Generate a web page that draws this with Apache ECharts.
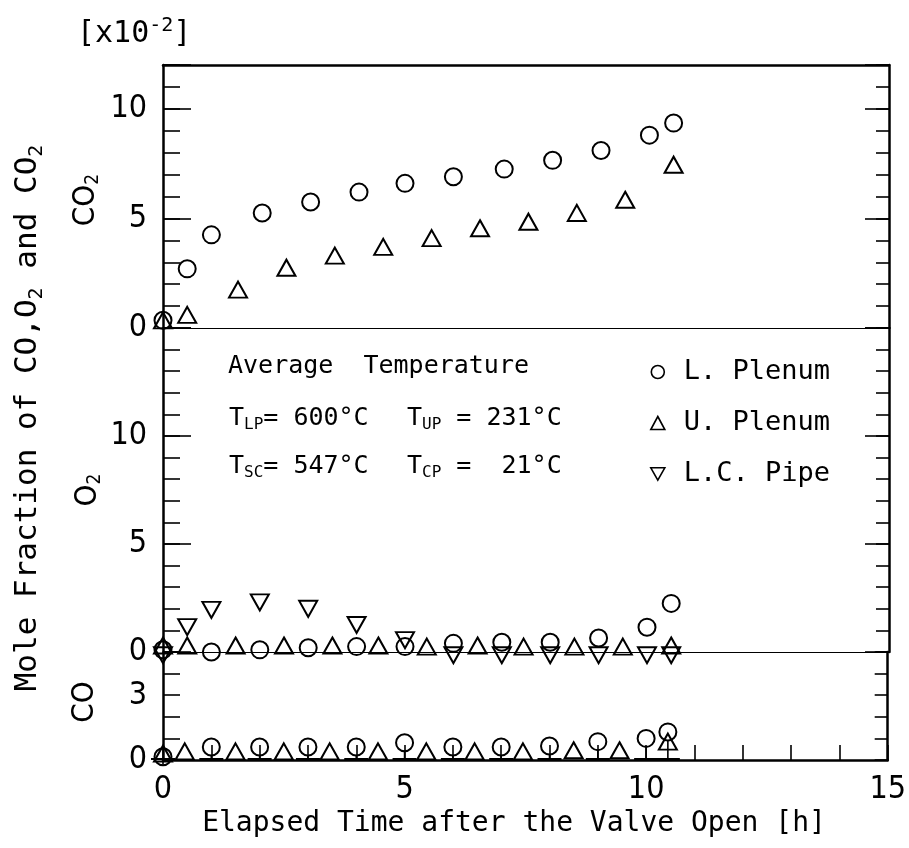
<!DOCTYPE html>
<html>
<head>
<meta charset="utf-8">
<title>Mole Fraction of CO, O2 and CO2</title>
<script src="https://cdn.jsdelivr.net/npm/echarts@6/dist/echarts.min.js"></script>
<style>
    html, body { margin: 0; padding: 0; background: #fff; }
    #chart { width: 909px; height: 848px; }
</style>
</head>
<body>
<div id="chart"></div>
<script>
// elapsed time [h], mole fraction [x10^-2]
var co2LPlenum = [[0, 0.35], [0.5, 2.7], [1, 4.25], [2.05, 5.25], [3.05, 5.75], [4.05, 6.2], [5, 6.6],
    [6, 6.9], [7.05, 7.25], [8.05, 7.65], [9.05, 8.1], [10.05, 8.8], [10.55, 9.35]];
var co2UPlenum = [[0, 0.35], [0.5, 0.6], [1.55, 1.75], [2.55, 2.75], [3.55, 3.3], [4.55, 3.7], [5.55, 4.1],
    [6.55, 4.55], [7.55, 4.85], [8.55, 5.25], [9.55, 5.85], [10.55, 7.45]];

var o2LPlenum = [[0, 0.1], [1, 0], [2, 0.1], [3, 0.2], [4, 0.25], [5, 0.25], [6, 0.4], [7, 0.45],
    [8, 0.45], [9, 0.65], [10, 1.15], [10.5, 2.25]];
var o2UPlenum = [[0, 0.3], [0.5, 0.3], [1.5, 0.3], [2.5, 0.3], [3.5, 0.3], [4.45, 0.3], [5.45, 0.25],
    [6.5, 0.3], [7.45, 0.25], [8.5, 0.25], [9.5, 0.25], [10.5, 0.3]];
var o2LCPipe = [[0, -0.15], [0.5, 1.15], [1, 1.95], [2, 2.3], [3, 2.0], [4, 1.25], [5, 0.55], [6, -0.15],
    [7, -0.15], [8, -0.15], [9, -0.15], [10, -0.15], [10.5, -0.15]];

var coLPlenum = [[0, 0.15], [1, 0.6], [2, 0.6], [3, 0.6], [4, 0.6], [5, 0.8], [6, 0.6], [7, 0.6],
    [8, 0.65], [9, 0.85], [10, 1.0], [10.45, 1.3]];
var coUPlenum = [[0, 0.3], [0.45, 0.4], [1.5, 0.4], [2.5, 0.4], [3.45, 0.4], [4.45, 0.4], [5.45, 0.4],
    [6.45, 0.4], [7.45, 0.4], [8.5, 0.45], [9.45, 0.45], [10.45, 0.85]];

var xLabels = [0, 5, 10, 15];
var co2Labels = [0, 5, 10];
var o2Labels = [0, 5, 10];
var coLabels = [0, 3];
var seriesNames = ['L. Plenum', 'U. Plenum', 'L.C. Pipe'];

var MONO = '"DejaVu Sans Mono", "Liberation Mono", monospace';
var NARROW = '"Liberation Sans Narrow", "DejaVu Sans Condensed", "Liberation Sans", sans-serif';

var myChart = echarts.init(document.getElementById('chart'));

function yAxisDef(g, max, pos, interval, tickLen, line, labels) {
    return {
        type: 'value', gridIndex: g, position: pos, min: 0, max: max, interval: interval,
        axisLine: {show: line, onZero: false, lineStyle: {color: '#000', width: 2.5}},
        axisTick: {show: true, inside: true, length: tickLen, lineStyle: {color: '#000', width: 1.6}},
        splitLine: {show: false},
        axisLabel: {
            show: !!labels, margin: 16, color: '#000', fontFamily: NARROW, fontSize: 32,
            formatter: function (v) {
                return labels && labels.indexOf(v) >= 0 ? String(v) : '';
            }
        }
    };
}

function xAxisDef(g, pos, width, labels) {
    return {
        type: 'value', gridIndex: g, position: pos, min: 0, max: 15, interval: labels ? 1 : 5,
        axisLine: {show: true, onZero: false, lineStyle: {color: '#000', width: width}},
        axisTick: {show: !!labels, inside: true, length: 15, lineStyle: {color: '#000', width: 1.6}},
        splitLine: {show: false},
        axisLabel: {
            show: !!labels, margin: 14, color: '#000', fontFamily: NARROW, fontSize: 32,
            formatter: function (v) {
                return labels && labels.indexOf(v) >= 0 ? String(v) : '';
            }
        }
    };
}

function scatter(name, data, xi, yi, kind) {
    var s = {
        name: name, type: 'scatter', data: data, xAxisIndex: xi, yAxisIndex: yi,
        clip: false, silent: true,
        itemStyle: {color: 'rgba(255,255,255,0)', borderColor: '#000', borderWidth: 2, opacity: 1}
    };
    if (kind == 'circle') {
        s.symbol = 'circle';
        s.symbolSize = 17;
    } else if (kind == 'up') {
        s.symbol = 'triangle';
        s.symbolSize = [18, 16];
    } else {
        s.symbol = 'path://M0,0L18,0L9,16Z';
        s.symbolSize = [18, 16];
    }
    return s;
}

// stem + foot under the CO circles
function stemItem(params, api) {
    var p = api.coord([api.value(0), api.value(1)]);
    var base = api.coord([api.value(0), 0]);
    return {
        type: 'group',
        children: [
            {type: 'line', shape: {x1: p[0], y1: p[1] + 8, x2: p[0], y2: base[1]},
                style: {stroke: '#000', lineWidth: 1.6}},
            {type: 'line', shape: {x1: p[0] - 12, y1: base[1] - 1, x2: p[0] + 12, y2: base[1] - 1},
                style: {stroke: '#000', lineWidth: 2}}
        ]
    };
}

var mRich = {fontFamily: MONO, fontSize: 25, lineHeight: 30, fill: '#000'};
var sRich = {fontFamily: MONO, fontSize: 16, lineHeight: 16, verticalAlign: 'bottom', fill: '#000'};

function note(x, y, text) {
    return {
        type: 'text', x: x, y: y, silent: true,
        style: {text: text, fill: '#000', align: 'left', verticalAlign: 'middle',
            rich: {m: mRich, s: sRich}}
    };
}

function sideLabel(x, y, text) {
    return {
        type: 'text', x: x, y: y, rotation: Math.PI / 2, silent: true,
        style: {text: text, fill: '#000', align: 'center', verticalAlign: 'middle',
            rich: {
                m: {fontFamily: NARROW, fontSize: 31, lineHeight: 34, fill: '#000'},
                s: {fontFamily: NARROW, fontSize: 19, lineHeight: 19, verticalAlign: 'bottom', fill: '#000'}
            }}
    };
}

var option = {
    animation: false,
    backgroundColor: '#fff',
    grid: [
        {left: 163, right: 20, top: 65, height: 263},
        {left: 163, right: 20, top: 328, height: 324},
        {left: 163, right: 20, top: 652, height: 108}
    ],
    xAxis: [
        xAxisDef(0, 'bottom', 1.2, null),
        xAxisDef(0, 'top', 2.5, null),
        xAxisDef(1, 'bottom', 1.2, null),
        xAxisDef(2, 'bottom', 2.5, xLabels)
    ],
    yAxis: [
        yAxisDef(0, 12, 'left', 1, 17, true, null),
        yAxisDef(0, 12, 'left', 5, 28, false, co2Labels),
        yAxisDef(0, 12, 'right', 1, 13, true, null),
        yAxisDef(0, 12, 'right', 5, 24, false, null),
        yAxisDef(1, 15, 'left', 1, 17, true, null),
        yAxisDef(1, 15, 'left', 5, 28, false, o2Labels),
        yAxisDef(1, 15, 'right', 1, 13, true, null),
        yAxisDef(1, 15, 'right', 5, 24, false, null),
        yAxisDef(2, 5, 'left', 1, 17, true, coLabels),
        yAxisDef(2, 5, 'right', 1, 13, true, null)
    ],
    legend: {
        data: seriesNames,
        orient: 'vertical',
        left: 645,
        top: 352,
        itemWidth: 14,
        itemHeight: 13,
        itemGap: 21,
        selectedMode: false,
        itemStyle: {borderWidth: 1.6, opacity: 1},
        textStyle: {color: '#000', fontFamily: MONO, fontSize: 27, lineHeight: 30, padding: [0, 0, 0, 14]}
    },
    graphic: [
        {
            type: 'text', x: 77, y: 34, silent: true,
            style: {text: '{m|[x10}{p|-2}{m|]}', fill: '#000', align: 'left', verticalAlign: 'middle',
                rich: {
                    m: {fontFamily: MONO, fontSize: 30, lineHeight: 36, fill: '#000'},
                    p: {fontFamily: MONO, fontSize: 20, lineHeight: 20, verticalAlign: 'top', fill: '#000'}
                }}
        },
        {
            type: 'text', x: 28, y: 418, rotation: Math.PI / 2, silent: true,
            style: {text: '{m|Mole Fraction of CO,O}{s|2}{m| and CO}{s|2}', fill: '#000',
                align: 'center', verticalAlign: 'middle',
                rich: {
                    m: {fontFamily: MONO, fontSize: 31, lineHeight: 38, fill: '#000'},
                    s: {fontFamily: MONO, fontSize: 20, lineHeight: 20, verticalAlign: 'bottom', fill: '#000'}
                }}
        },
        sideLabel(86, 200, '{m|CO}{s|2}'),
        sideLabel(88, 490, '{m|O}{s|2}'),
        sideLabel(85, 702, '{m|CO}'),
        {
            type: 'text', x: 514, y: 824, silent: true,
            style: {text: 'Elapsed Time after the Valve Open [h]', fill: '#000', align: 'center',
                verticalAlign: 'middle', font: '28px ' + MONO}
        },
        note(228, 366, '{m|Average  Temperature}'),
        note(229, 418, '{m|T}{s|LP}{m|= 600°C}'),
        note(407, 418, '{m|T}{s|UP}{m| = 231°C}'),
        note(229, 466, '{m|T}{s|SC}{m|= 547°C}'),
        note(407, 466, '{m|T}{s|CP}{m| =  21°C}')
    ],
    series: [
        scatter('L. Plenum', co2LPlenum, 0, 0, 'circle'),
        scatter('U. Plenum', co2UPlenum, 0, 0, 'up'),
        scatter('L. Plenum', o2LPlenum, 2, 4, 'circle'),
        scatter('U. Plenum', o2UPlenum, 2, 4, 'up'),
        scatter('L.C. Pipe', o2LCPipe, 2, 4, 'down'),
        {
            name: 'stem', type: 'custom', xAxisIndex: 3, yAxisIndex: 8, silent: true, clip: false,
            data: coLPlenum, encode: {x: 0, y: 1}, renderItem: stemItem
        },
        scatter('L. Plenum', coLPlenum, 3, 8, 'circle'),
        scatter('U. Plenum', coUPlenum, 3, 8, 'up')
    ]
};

myChart.setOption(option);
</script>
</body>
</html>
